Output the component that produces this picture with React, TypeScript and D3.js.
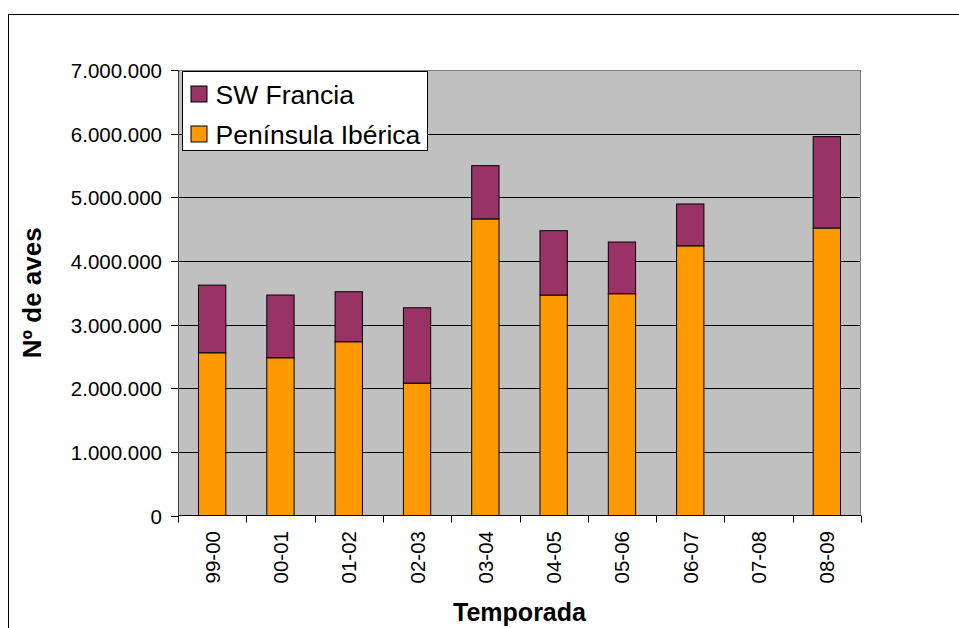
import React from "react";
import * as d3 from "d3";

// Temporadas (winter seasons)
const seasons = ["99-00", "00-01", "01-02", "02-03", "03-04", "04-05", "05-06", "06-07", "07-08", "08-09"];
// Bird counts per region; null = no census that season
const peninsulaIberica: (number | null)[] = [2557000, 2478000, 2730000, 2080000, 4660000, 3464000, 3485000, 4237000, null, 4517000];
const swFrancia: (number | null)[] = [1063000, 986000, 786000, 1184000, 837000, 1011000, 812000, 658000, null, 1436000];
const yTicks = [0, 1000000, 2000000, 3000000, 4000000, 5000000, 6000000, 7000000];

const seriesKeys = ["Península Ibérica", "SW Francia"];
const seriesColors: Record<string, string> = {
  "Península Ibérica": "#FF9900",
  "SW Francia": "#993366",
};

const W = 959;
const H = 628;
const plot = { left: 178, top: 70, right: 861, bottom: 515.5 };
const FONT = "'Liberation Sans', Arial, sans-serif";

const fmt = (v: number) =>
  v === 0 ? "0" : d3.format(",")(v).replace(/,/g, ".");

export default function App() {
  const x = d3.scaleBand<string>().domain(seasons).range([plot.left, plot.right]).paddingInner(0).paddingOuter(0);
  const y = d3.scaleLinear().domain([0, 7000000]).range([plot.bottom, plot.top]);

  const table = seasons.map((s, i) => ({
    season: s,
    "Península Ibérica": peninsulaIberica[i] ?? 0,
    "SW Francia": swFrancia[i] ?? 0,
  }));
  const stacked = d3.stack<any>().keys(seriesKeys)(table);

  const bw = x.bandwidth() / 2.5;

  return (
    <svg width={W} height={H} style={{ position: "absolute", left: 0, top: 0, background: "#fff" }} fontFamily={FONT}>
      {/* outer chart frame */}
      <rect x={8.5} y={14.5} width={1000} height={700} fill="#fff" stroke="#000" strokeWidth={1} />

      {/* plot area */}
      <rect x={plot.left} y={plot.top} width={plot.right - plot.left} height={plot.bottom - plot.top} fill="#C0C0C0" />
      {yTicks.slice(1).map((t) => (
        <line key={t} x1={plot.left} x2={plot.right} y1={Math.round(y(t)) + 0.5} y2={Math.round(y(t)) + 0.5} stroke="#000" strokeWidth={1} />
      ))}
      <path
        d={`M${plot.left},${plot.top + 0.5}H${plot.right - 0.5}V${plot.bottom}`}
        fill="none"
        stroke="#808080"
        strokeWidth={1}
      />

      {/* stacked bars */}
      {stacked.map((layer) => (
        <g key={layer.key} fill={seriesColors[layer.key]} stroke="#000" strokeWidth={1}>
          {layer.map((d, i) =>
            d[1] - d[0] > 0 ? (
              <rect
                key={i}
                x={x(seasons[i])! + (x.bandwidth() - bw) / 2}
                y={y(d[1])}
                width={bw}
                height={y(d[0]) - y(d[1])}
              />
            ) : null
          )}
        </g>
      ))}

      {/* y axis */}
      <line x1={plot.left + 0.5} x2={plot.left + 0.5} y1={plot.top} y2={plot.bottom} stroke="#404040" />
      {yTicks.map((t) => (
        <g key={t} transform={`translate(0,${Math.round(y(t)) + 0.5})`}>
          <line x1={plot.left - 7} x2={plot.left} stroke="#000" />
          <text x={plot.left - 16} dy="0.36em" textAnchor="end" fontSize={20.5} fill="#000">
            {fmt(t)}
          </text>
        </g>
      ))}

      {/* x axis */}
      <line x1={plot.left} x2={plot.right} y1={plot.bottom} y2={plot.bottom} stroke="#000" />
      {d3.range(seasons.length + 1).map((k) => {
        const xx = Math.round(plot.left + k * x.step()) + 0.5;
        return <line key={k} x1={xx} x2={xx} y1={plot.bottom} y2={plot.bottom + 7} stroke="#000" />;
      })}
      {seasons.map((s) => {
        const cx = x(s)! + x.bandwidth() / 2;
        return (
          <text
            key={s}
            transform={`translate(${cx + 7.5},${531}) rotate(-90)`}
            textAnchor="end"
            fontSize={20.5}
            fill="#000"
          >
            {s}
          </text>
        );
      })}

      {/* axis titles */}
      <text x={(plot.left + plot.right) / 2} y={620.5} textAnchor="middle" fontSize={25} fontWeight="bold" fill="#000">
        Temporada
      </text>
      <text
        transform={`translate(40.5,${(plot.top + plot.bottom) / 2}) rotate(-90)`}
        textAnchor="middle"
        fontSize={26}
        fontWeight="bold"
        fill="#000"
      >
        Nº de aves
      </text>

      {/* legend */}
      <g>
        <rect x={182.5} y={71.5} width={245} height={79} fill="#fff" stroke="#000" />
        {["SW Francia", "Península Ibérica"].map((k, i) => (
          <g key={k} transform={`translate(0,${i * 40})`}>
            <rect x={191} y={86} width={16} height={16} fill={seriesColors[k]} stroke="#000" />
            <text x={215.5} y={104} fontSize={26.5} fill="#000">
              {k}
            </text>
          </g>
        ))}
      </g>
    </svg>
  );
}
